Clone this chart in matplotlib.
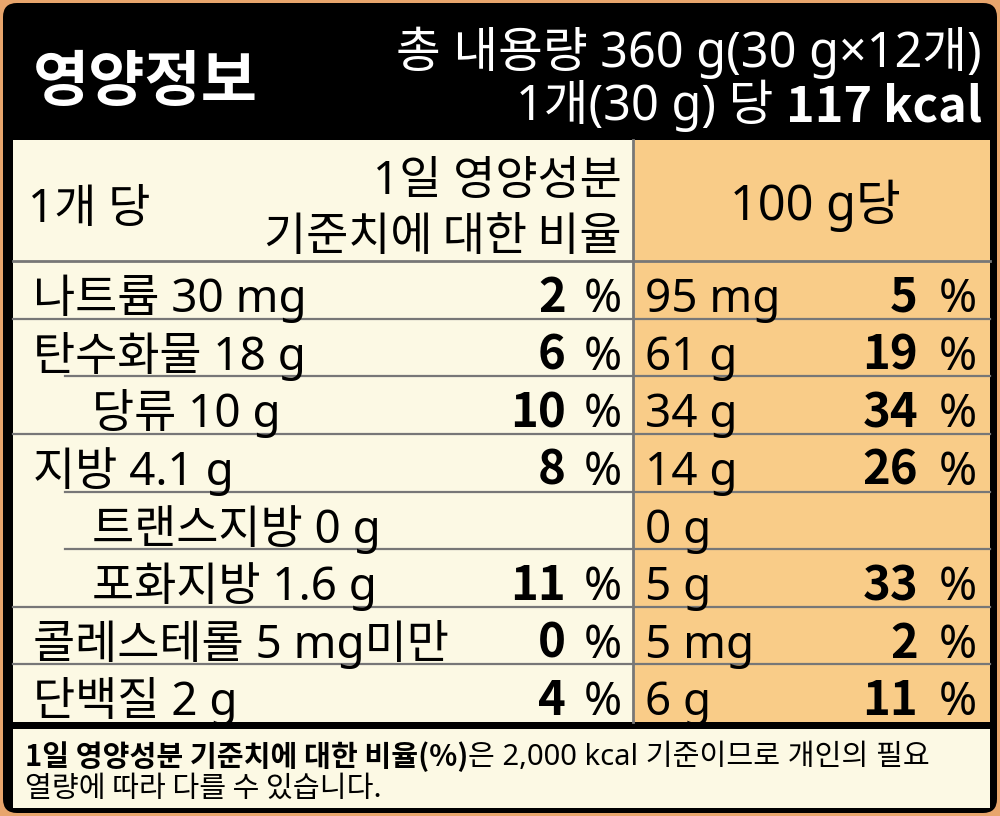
import matplotlib
matplotlib.use('Agg')
import matplotlib.pyplot as plt
from matplotlib.patches import Rectangle, FancyBboxPatch

plt.rcParams['font.family'] = ['Noto Sans CJK KR', 'DejaVu Sans']
# 라틴 문자는 Noto Sans, 한글은 Noto Sans CJK
mixed = ['Noto Sans', 'Noto Sans CJK KR', 'DejaVu Sans']

# 데이터
title = '영양정보'
total_line = '총 내용량 360 g(30 g×12개)'
serving_line = '1개(30 g) 당 '
kcal_text = '117 kcal'

nutrients = ['나트륨', '탄수화물', '당류', '지방', '트랜스지방', '포화지방', '콜레스테롤', '단백질']
amounts = ['30 mg', '18 g', '10 g', '4.1 g', '0 g', '1.6 g', '5 mg미만', '2 g']
indent = [0, 0, 1, 0, 1, 1, 0, 0]
dv_pct = ['2', '6', '10', '8', '', '11', '0', '4']
amounts_100g = ['95 mg', '61 g', '34 g', '14 g', '0 g', '5 g', '5 mg', '6 g']
dv_pct_100g = ['5', '19', '34', '26', '', '33', '2', '11']

footer_bold = '1일 영양성분 기준치에 대한 비율(%)'
footer_rest = '은 2,000 kcal 기준이므로 개인의 필요'
footer_line2 = '열량에 따라 다를 수 있습니다.'

# 색
bg_orange = '#E8A56C'
cream = '#FCF9E4'
panel_orange = '#F9CC88'
grid = '#777777'

fig = plt.figure(figsize=(10, 8.16), dpi=100)
fig.patch.set_facecolor(bg_orange)
ax = fig.add_axes([0, 0, 1, 1])
ax.set_xlim(0, 1000)
ax.set_ylim(816, 0)
ax.axis('off')

# 검은 테두리
ax.add_patch(FancyBboxPatch((3, 3), 994, 810, boxstyle='round,pad=0,rounding_size=14',
                            fc='black', ec='none'))

# 표 영역
x_left, x_mid, x_right = 13, 633, 990
y_top, y_head, y_bot = 140, 261, 722
row_h = (y_bot - y_head) / len(nutrients)
ax.add_patch(Rectangle((x_left, y_top), x_mid - x_left, y_bot - y_top, fc=cream, ec='none'))
ax.add_patch(Rectangle((x_mid, y_top), x_right - x_mid, y_bot - y_top, fc=panel_orange, ec='none'))
ax.plot([x_mid, x_mid], [y_top, y_bot], color=grid, lw=2)

# 주석 영역
ax.add_patch(Rectangle((x_left, 729), x_right - x_left, 79, fc=cream, ec='none'))

# 가로선
ax.plot([x_left, x_right], [y_head, y_head], color=grid, lw=2)
for i in range(1, len(nutrients)):
    y = y_head + i * row_h
    x0 = 65 if indent[i] else x_left
    ax.plot([x0, x_right], [y, y], color=grid, lw=1.6)

# 머리글
ax.text(33, 101, title, color='white', fontsize=44, fontweight='black', va='baseline')
ax.text(982, 67, total_line, color='white', fontsize=35, family=mixed, ha='right', va='baseline')
kc = ax.text(982, 122, kcal_text, color='white', fontsize=35, fontweight='bold',
             ha='right', va='baseline')
ax.annotate(serving_line, xy=(0, 0), xycoords=kc, color='white', fontsize=35, family=mixed,
            ha='right', va='bottom')

ax.text(28, 222, '1개 당', fontsize=33, family=mixed, va='baseline')
ax.text(622, 194, '1일 영양성분', fontsize=33, family=mixed, ha='right', va='baseline')
ax.text(622, 250, '기준치에 대한 비율', fontsize=33, ha='right', va='baseline')
ax.text((x_mid + x_right) / 2 + 4, 220, '100 g당', fontsize=35, family=mixed,
        ha='center', va='baseline')

# 행
for i, name in enumerate(nutrients):
    base = y_head + i * row_h + 51
    x0 = 92 if indent[i] else 33
    ax.text(x0, base, name + ' ' + amounts[i], fontsize=33, family=mixed, va='baseline')
    if dv_pct[i]:
        ax.text(566, base, dv_pct[i], fontsize=34, fontweight='bold',
                ha='right', va='baseline')
        ax.text(622, base, '%', fontsize=33, family=mixed, ha='right', va='baseline')
    ax.text(645, base, amounts_100g[i], fontsize=33, family=mixed, va='baseline')
    if dv_pct_100g[i]:
        ax.text(918, base, dv_pct_100g[i], fontsize=34, fontweight='bold',
                ha='right', va='baseline')
        ax.text(977, base, '%', fontsize=33, family=mixed, ha='right', va='baseline')

# 주석
fb = ax.text(25, 766, footer_bold, fontsize=21, fontweight='bold', va='baseline')
ax.annotate(footer_rest, xy=(1, 0), xycoords=fb, fontsize=21, family=mixed,
            ha='left', va='bottom')
ax.text(25, 797, footer_line2, fontsize=21, va='baseline')

fig.savefig('out.png', dpi=100, facecolor=fig.get_facecolor())
